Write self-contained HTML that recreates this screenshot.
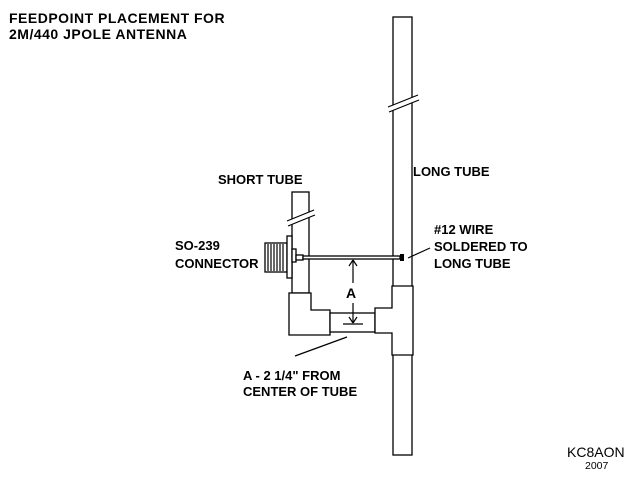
<!DOCTYPE html>
<html><head><style>html,body{margin:0;padding:0;background:#fff}svg{display:block}</style></head>
<body>
<svg width="640" height="480" xmlns="http://www.w3.org/2000/svg" font-family="Liberation Sans, Arial, sans-serif">
<rect width="640" height="480" fill="#fff"/>
<g fill="#000" font-weight="bold" font-size="13">
<text x="9" y="23" font-size="14" letter-spacing="0.5">FEEDPOINT PLACEMENT FOR</text>
<text x="9" y="39" font-size="14" letter-spacing="0.5">2M/440 JPOLE ANTENNA</text>
<text x="218" y="184">SHORT TUBE</text>
<text x="413" y="176">LONG TUBE</text>
<text x="434" y="234">#12 WIRE</text>
<text x="434" y="251">SOLDERED TO</text>
<text x="434" y="268">LONG TUBE</text>
<text x="175" y="250">SO-239</text>
<text x="175" y="268">CONNECTOR</text>
<text x="243" y="380">A - 2 1/4" FROM</text>
<text x="243" y="396">CENTER OF TUBE</text>
<text x="346" y="298" font-size="14">A</text>
</g>
<text x="567" y="457" font-size="14" fill="#000">KC8AON</text>
<text x="585" y="469" font-size="10.5" fill="#000">2007</text>
<g fill="#fff" stroke="#000" stroke-width="1.3">
<rect x="393" y="17" width="19" height="438"/>
<rect x="292" y="192" width="17" height="101"/>
<polygon points="289,293 311,293 311,310 330,310 330,335 289,335"/>
<rect x="330" y="313" width="45" height="19"/>
<polygon points="392,286 413,286 413,355 392,355 392,333 375,333 375,308 392,308"/>
<rect x="265" y="243" width="22" height="29"/>
<rect x="287" y="236" width="5" height="42"/>
<rect x="292" y="249" width="4" height="13"/>
<rect x="296" y="255" width="7" height="5"/>
<rect x="303" y="256" width="97" height="3"/>
</g>
<g stroke="#fff" stroke-width="5"><line x1="388" y1="110" x2="418" y2="98"/><line x1="287" y1="224" x2="314" y2="213"/></g>
<g stroke="#000" stroke-width="1.2">
<line x1="388" y1="107" x2="418" y2="95"/><line x1="389" y1="112" x2="419" y2="100"/>
<line x1="287" y1="221" x2="314" y2="210"/><line x1="288" y1="226" x2="315" y2="215"/>
<line x1="268" y1="244" x2="268" y2="271"/><line x1="271" y1="244" x2="271" y2="271"/><line x1="274" y1="244" x2="274" y2="271"/><line x1="277" y1="244" x2="277" y2="271"/><line x1="280" y1="244" x2="280" y2="271"/><line x1="283" y1="244" x2="283" y2="271"/>
<line x1="353" y1="260" x2="353" y2="283"/>
<line x1="353" y1="303" x2="353" y2="323"/>
<line x1="343" y1="324" x2="363" y2="324"/>
<line x1="349" y1="266" x2="353" y2="260"/><line x1="357" y1="266" x2="353" y2="260"/>
<line x1="349" y1="317" x2="353" y2="323"/><line x1="357" y1="317" x2="353" y2="323"/>
<line x1="408" y1="258" x2="430" y2="248"/>
<line x1="347" y1="337" x2="295" y2="356"/>
</g>
<rect x="400" y="254" width="4" height="7" fill="#000"/>
</svg>
</body></html>
